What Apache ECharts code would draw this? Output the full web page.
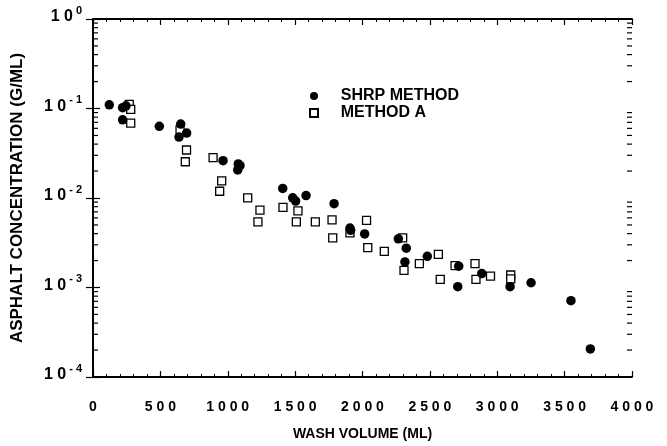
<!DOCTYPE html>
<html>
<head>
<meta charset="utf-8">
<script src="https://cdn.jsdelivr.net/npm/echarts@6/dist/echarts.min.js"></script>
<style>
  html, body { margin: 0; padding: 0; background: #fff; }
  #chart { width: 667px; height: 446px; }
</style>
</head>
<body>
<div id="chart"></div>
<script>
const FONT = '"Liberation Sans", Arial, Helvetica, sans-serif';

// SHRP method (filled circles): wash volume (ml), concentration (g/ml)
const shrpVolume = [121, 220, 245, 220, 492, 651, 638, 695, 965, 1078, 1091, 1074, 1408, 1482, 1504, 1581,
  1789, 1907, 1912, 2016, 2266, 2325, 2315, 2481, 2714, 2707, 2885, 3095, 3251, 3547, 3691];
const shrpConc = [0.110, 0.102, 0.107, 0.0748, 0.0633, 0.0670, 0.0480, 0.0531, 0.0261, 0.0240, 0.0230, 0.0206,
  0.0128, 0.01005, 0.00923, 0.01065, 0.00865, 0.00462, 0.00435, 0.00397, 0.00350, 0.00275, 0.00193, 0.00223,
  0.00173, 0.00102, 0.00143, 0.00102, 0.00113, 0.000713, 0.000206];

// Method A (open squares)
const methodAVolume = [269, 280, 280, 646, 694, 685, 891, 955, 940, 1148, 1239, 1224, 1410, 1521, 1509, 1650,
  1774, 1779, 1907, 2030, 2039, 2162, 2298, 2308, 2422, 2563, 2577, 2687, 2835, 2842, 2950, 3100, 3100];
const methodAConc = [0.111, 0.0977, 0.0687, 0.0576, 0.0344, 0.0254, 0.0283, 0.0155, 0.0119, 0.01005, 0.00731,
  0.00541, 0.00787, 0.00718, 0.00541, 0.00541, 0.00569, 0.00359, 0.00407, 0.00561, 0.00279, 0.00253, 0.00359,
  0.00155, 0.00185, 0.00234, 0.00123, 0.00176, 0.00185, 0.00123, 0.00134, 0.00138, 0.00125];

const seriesNames = ["SHRP METHOD", "METHOD A"];
const xTickValues = [0, 500, 1000, 1500, 2000, 2500, 3000, 3500, 4000];
const yDecades = [-4, -3, -2, -1];
const logMinorSteps = [2, 3, 4, 5, 6, 7, 8, 9];

function pairs(xs, ys) {
  return xs.map((x, i) => [x, ys[i]]);
}

// minor log ticks (2..9 x 10^k), drawn on both sides of the frame
const minorTickData = [];
yDecades.forEach(k => logMinorSteps.forEach(m => minorTickData.push([0, m * Math.pow(10, k)])));

const chart = echarts.init(document.getElementById("chart"));

const axisBase = {
  axisLine: { show: true, lineStyle: { color: "#000", width: 1.8 } },
  splitLine: { show: false }
};

const option = {
  backgroundColor: "#ffffff",
  animation: false,
  grid: { left: 93, right: 35, top: 19, bottom: 60 },
  legend: {
    data: seriesNames,
    orient: "vertical",
    left: 304,
    top: 83,
    itemWidth: 8,
    itemHeight: 8,
    itemGap: 1,
    formatter: name => "    " + name,
    textStyle: { fontFamily: FONT, fontWeight: "bold", fontSize: 16, color: "#000" }
  },
  xAxis: [
    Object.assign({}, axisBase, {
      type: "value",
      min: 0,
      max: 4000,
      interval: 500,
      position: "bottom",
      axisTick: { show: true, inside: true, length: 6, lineStyle: { color: "#000", width: 1.2 } },
      minorTick: { show: true, splitNumber: 5, length: 3, lineStyle: { color: "#000", width: 1 } },
      axisLabel: {
        margin: 23,
        fontFamily: FONT,
        fontWeight: "bold",
        fontSize: 14,
        color: "#000",
        formatter: v => xTickValues.includes(v) ? String(v).split("").join(" ") : ""
      },
      name: "WASH VOLUME (ML)",
      nameLocation: "middle",
      nameGap: 50,
      nameTextStyle: { fontFamily: FONT, fontWeight: "bold", fontSize: 14, color: "#000" }
    }),
    Object.assign({}, axisBase, {
      type: "value",
      min: 0,
      max: 4000,
      interval: 500,
      position: "top",
      axisTick: { show: true, inside: true, length: 6, lineStyle: { color: "#000", width: 1.2 } },
      minorTick: { show: true, splitNumber: 5, length: 3, lineStyle: { color: "#000", width: 1 } },
      axisLabel: { show: false }
    })
  ],
  yAxis: [
    Object.assign({}, axisBase, {
      type: "log",
      logBase: 10,
      min: 0.0001,
      max: 1,
      position: "left",
      axisTick: { show: true, inside: true, length: 7, lineStyle: { color: "#000", width: 1.2 } },
      axisLabel: {
        margin: 11,
        padding: [0, 0, 8, 0],
        color: "#000",
        formatter: v => {
          const e = Math.round(Math.log10(v));
          return "{base|1 0}{sup|" + (e === 0 ? "0" : "- " + (-e)) + "}";
        },
        rich: {
          base: { fontFamily: FONT, fontWeight: "bold", fontSize: 16, color: "#000", lineHeight: 20, verticalAlign: "bottom" },
          sup: { fontFamily: FONT, fontWeight: "bold", fontSize: 11, color: "#000", lineHeight: 11, verticalAlign: "top", padding: [0, 0, 0, 3] }
        }
      },
      name: "ASPHALT CONCENTRATION (G/ML)",
      nameLocation: "middle",
      nameGap: 67,
      nameRotate: 90,
      nameTextStyle: { fontFamily: FONT, fontWeight: "bold", fontSize: 17, color: "#000" }
    }),
    Object.assign({}, axisBase, {
      type: "log",
      logBase: 10,
      min: 0.0001,
      max: 1,
      position: "right",
      axisTick: { show: true, inside: true, length: 7, lineStyle: { color: "#000", width: 1.2 } },
      axisLabel: { show: false }
    })
  ],
  series: [
    {
      name: "minor ticks",
      type: "custom",
      silent: true,
      clip: false,
      xAxisIndex: 0,
      yAxisIndex: 0,
      data: minorTickData,
      renderItem: (params, api) => {
        const v = api.value(1);
        const l = api.coord([0, v]);
        const r = api.coord([4000, v]);
        return {
          type: "group",
          children: [
            { type: "line", shape: { x1: l[0], y1: l[1], x2: l[0] + 5, y2: l[1] }, style: { stroke: "#000", lineWidth: 1.2 } },
            { type: "line", shape: { x1: r[0], y1: r[1], x2: r[0] - 5, y2: r[1] }, style: { stroke: "#000", lineWidth: 1.2 } }
          ]
        };
      },
      z: 5
    },
    {
      name: "METHOD A",
      type: "scatter",
      symbol: "rect",
      symbolSize: 8,
      itemStyle: { color: "#fff", borderColor: "#000", borderWidth: 1.3, opacity: 1 },
      data: pairs(methodAVolume, methodAConc),
      z: 3
    },
    {
      name: "SHRP METHOD",
      type: "scatter",
      symbol: "circle",
      symbolSize: 9.5,
      itemStyle: { color: "#000", opacity: 1 },
      data: pairs(shrpVolume, shrpConc),
      z: 4
    }
  ]
};

chart.setOption(option);
window.addEventListener("resize", () => chart.resize());
</script>
</body>
</html>
